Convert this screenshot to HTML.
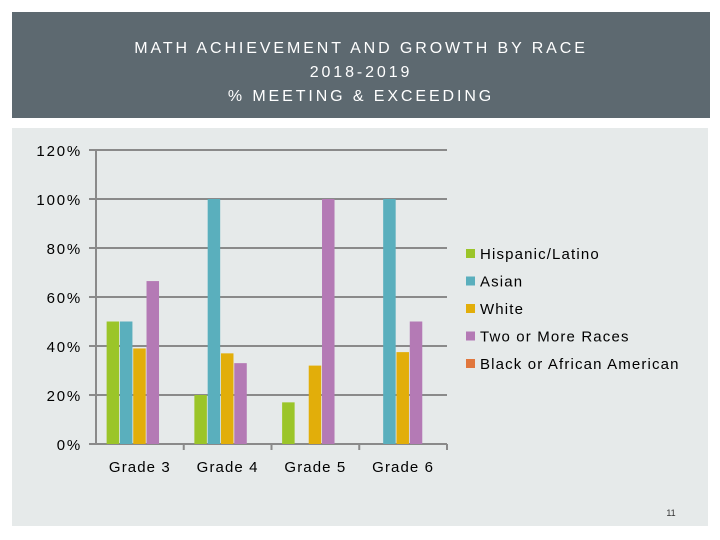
<!DOCTYPE html>
<html><head><meta charset="utf-8"><style>
body{margin:0;width:720px;height:540px;background:#fff;position:relative;font-family:"Liberation Sans",sans-serif;overflow:hidden}
#hdr{position:absolute;left:12px;top:12px;width:698px;height:106px;background:#5d6970;color:#fff;text-align:center;font-size:16px;letter-spacing:2.9px;line-height:24px;padding-top:25px;box-sizing:border-box}
#panel{position:absolute;left:12px;top:128px;width:696px;height:398px;background:#e6eaea}
svg{position:absolute;left:0;top:0}
</style></head><body>
<div id="hdr">MATH ACHIEVEMENT AND GROWTH BY RACE<br>2018-2019<br>% MEETING &amp; EXCEEDING</div>
<div id="panel"></div>
<svg id="chart" width="720" height="540"></svg>
<script>
const categories=["Grade 3","Grade 4","Grade 5","Grade 6"];
const seriesNames=["Hispanic/Latino","Asian","White","Two or More Races","Black or African American"];
const hispanic=[50,20,17,0];
const asian=[50,100,0,100];
const white=[39,37,32,37.5];
const twoOrMore=[66.5,33,100,50];
const black=[0,0,0,0];
const yTicks=[0,20,40,60,80,100,120];
const yTickLabels=["0%","20%","40%","60%","80%","100%","120%"];
const allSeries=[hispanic,asian,white,twoOrMore,black];
const colors=["#9bc529","#5aafbd","#e2ae0a","#b47ab5","#e1773d"];
const NS="http://www.w3.org/2000/svg";
const svg=document.getElementById('chart');
const x0=96,x1=447,y0=444,yTop=150;
const yScale=v=>y0-(v/120)*(y0-yTop);
const catW=(x1-x0)/categories.length;
const barW=13.3;
function mk(t,a){const e=document.createElementNS(NS,t);for(const k in a)e.setAttribute(k,a[k]);svg.appendChild(e);return e;}
yTicks.forEach((t,i)=>{
 const y=yScale(t);
 const g=mk('line',{x1:89,x2:x1,y1:y,y2:y,stroke:'#8a8a8a','stroke-width':2});
 
 
 const l=mk('text',{x:82,y:y+6,'text-anchor':'end','font-size':15,'letter-spacing':1.8,fill:'#000'});
 l.textContent=yTickLabels[i];
 
 
});
const ax=mk('line',{x1:x0,x2:x0,y1:yTop,y2:y0+1,stroke:'#8a8a8a','stroke-width':2});


categories.forEach((c,i)=>{
 const cx=x0+catW*i;
 const tk=mk('line',{x1:cx+catW,x2:cx+catW,y1:y0,y2:y0+6,stroke:'#8a8a8a','stroke-width':2});
 
 
 const l=mk('text',{x:cx+catW/2,y:y0+28,'text-anchor':'middle','font-size':15,'letter-spacing':1.1,fill:'#000'});
 l.textContent=c;
 
 
 const start=cx+(catW-barW*5)/2;
 allSeries.forEach((s,j)=>{
  const v=s[i]; if(!v) return;
  const y=yScale(v);
  const r=mk('rect',{x:start+j*barW,y:y,width:barW-0.8,height:y0-y,fill:colors[j]});
  
  
 });
});
seriesNames.forEach((n,j)=>{
 const y=254+j*27.5;
 const r=mk('rect',{x:466,y:y-5,width:9,height:9,fill:colors[j]});
 
 
 const t=mk('text',{x:480,y:y+5,'font-size':15,'letter-spacing':1.15,fill:'#000'});
 t.textContent=n;
 
 
});
const pn=mk('text',{x:671,y:516,'text-anchor':'middle','font-size':9,fill:'#333'});
pn.textContent="11";


</script>
</body></html>
